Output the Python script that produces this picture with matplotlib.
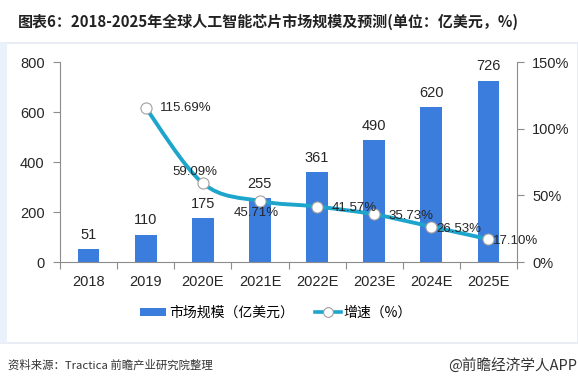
import matplotlib
matplotlib.use('Agg')
import matplotlib.pyplot as plt
from matplotlib.path import Path
from matplotlib.patches import PathPatch, Rectangle
from matplotlib.lines import Line2D
from matplotlib.ticker import FuncFormatter, FixedLocator
import numpy as np

plt.rcParams['font.family'] = ['Liberation Sans', 'Noto Sans CJK SC', 'DejaVu Sans']

# ---- data --------------------------------------------------------------
years = ['2018', '2019', '2020E', '2021E', '2022E', '2023E', '2024E', '2025E']
market = [51, 110, 175, 255, 361, 490, 620, 726]           # 亿美元
growth = [None, 115.69, 59.09, 45.71, 41.57, 35.73, 26.53, 17.10]  # %

BAR_C = '#3b7ddd'
LINE_C = '#1ea5cc'
AX_C = '#8c8c8c'
TXT_C = '#262626'
CJK = ['Noto Sans CJK SC', 'DejaVu Sans']

fig = plt.figure(figsize=(5.78, 3.85), dpi=100)

# panel background
fig.patches.append(Rectangle((0, 0), 1, 1, transform=fig.transFigure,
                             facecolor='white', edgecolor='none', zorder=-3))
fig.patches.append(Rectangle((0, 1 - 343 / 385), 1, (343 - 43) / 385,
                             transform=fig.transFigure, facecolor='white',
                             edgecolor='#e6ebf2', linewidth=1.2, zorder=-2))
fig.patches.append(Rectangle((0, 1 - 343 / 385), 7 / 578, (343 - 43) / 385,
                             transform=fig.transFigure, facecolor='#e9f1fa',
                             edgecolor='none', zorder=-1))

ax = fig.add_axes([60 / 578, 1 - 262 / 385, (517 - 60) / 578, 200 / 385])
ax.set_facecolor('none')
x = np.arange(len(years))
ax.bar(x, market, width=0.38, color=BAR_C, zorder=2)
for xi, v in zip(x, market):
    ax.text(xi, v + 28, str(v), ha='center', va='bottom', fontsize=10.5,
            color=TXT_C, zorder=5)

ax.set_xlim(-0.5, len(years) - 0.5)
ax.set_ylim(0, 800)
ax.set_yticks([0, 200, 400, 600, 800])
ax.set_xticks(x)
ax.set_xticklabels(years)
ax.xaxis.set_minor_locator(FixedLocator(np.arange(-0.5, len(years), 1.0)))
ax.tick_params(axis='x', which='major', length=0, pad=9, labelsize=10.5,
               colors=TXT_C)
ax.tick_params(axis='x', which='minor', length=5, color=AX_C, width=0.8)
ax.tick_params(axis='y', length=5, color=AX_C, width=0.8, labelsize=10.5,
               labelcolor=TXT_C, pad=6)
for s in ['top', 'right']:
    ax.spines[s].set_visible(False)
for s in ['left', 'bottom']:
    ax.spines[s].set_color(AX_C)
    ax.spines[s].set_linewidth(0.8)

# ---- growth line (right axis) -----------------------------------------
ax2 = ax.twinx()
ax2.set_ylim(0, 150)
ax2.set_yticks([0, 50, 100, 150])
ax2.yaxis.set_major_formatter(FuncFormatter(lambda v, p: f'{v:.0f}%'))
ax2.tick_params(axis='y', length=5, color=AX_C, width=0.8, labelsize=10.5,
                labelcolor=TXT_C, pad=6)
for s in ['top', 'left', 'bottom']:
    ax2.spines[s].set_visible(False)
ax2.spines['right'].set_color(AX_C)
ax2.spines['right'].set_linewidth(0.8)

gx = np.array([xi for xi, g in zip(x, growth) if g is not None], dtype=float)
gy = np.array([g for g in growth if g is not None], dtype=float)

# smooth curve through the points (Catmull-Rom as cubic Bezier segments)
verts = [(gx[0], gy[0])]
codes = [Path.MOVETO]
n = len(gx)
for i in range(n - 1):
    p0 = np.array([gx[max(i - 1, 0)], gy[max(i - 1, 0)]])
    p1 = np.array([gx[i], gy[i]])
    p2 = np.array([gx[i + 1], gy[i + 1]])
    p3 = np.array([gx[min(i + 2, n - 1)], gy[min(i + 2, n - 1)]])
    c1 = p1 + (p2 - p0) / 6
    c2 = p2 - (p3 - p1) / 6
    verts += [tuple(c1), tuple(c2), tuple(p2)]
    codes += [Path.CURVE4] * 3
ax2.add_patch(PathPatch(Path(verts, codes), facecolor='none',
                        edgecolor=LINE_C, linewidth=2.8, zorder=3,
                        capstyle='round'))
ax2.plot(gx, gy, linestyle='none', marker='o', markersize=8,
         markerfacecolor='white', markeredgecolor='#a0a0a0',
         markeredgewidth=0.8, zorder=4)

# percentage labels: (dx, dy in %-units, ha, va)
offsets = {1: (0.25, 0, 'left', 'center'),
           2: (-0.14, 4, 'center', 'bottom'),
           3: (-0.07, -4.5, 'center', 'top'),
           4: (0.25, -1, 'left', 'center'),
           5: (0.25, -1, 'left', 'center'),
           6: (0.09, -1.5, 'left', 'center'),
           7: (0.08, -1.5, 'left', 'center')}
for xi, g in zip(x, growth):
    if g is None:
        continue
    dx, dy, ha, va = offsets[xi]
    ax2.text(xi + dx, g + dy, f'{g:.2f}%', ha=ha, va=va, fontsize=9.5,
             color=TXT_C, zorder=5)

# ---- legend ------------------------------------------------------------
h_bar = Rectangle((0, 0), 1, 1, facecolor=BAR_C, edgecolor='none')
h_line = Line2D([], [], color=LINE_C, linewidth=2.6, marker='o',
                markersize=7, markerfacecolor='white',
                markeredgecolor='#a0a0a0', markeredgewidth=0.8)
fig.legend([h_bar, h_line], ['市场规模（亿美元）', '增速（%）'],
           loc='center', bbox_to_anchor=(276 / 578, 1 - 313 / 385),
           ncol=2, frameon=False, handlelength=1.9,
           handleheight=0.55, handletextpad=0.2, columnspacing=1.5,
           prop={'family': CJK, 'size': 10})

# ---- title & footer ----------------------------------------------------
fig.text(18 / 578, 1 - 22 / 385,
         '图表6：2018-2025年全球人工智能芯片市场规模及预测(单位：亿美元，%)',
         ha='left', va='center', fontsize=10.8, fontweight='bold',
         color='#222222', family=CJK)
fig.text(8 / 578, 1 - 365 / 385, '资料来源：Tractica 前瞻产业研究院整理',
         ha='left', va='center', fontsize=8.2, color='#333333', family=CJK)
fig.text(577 / 578, 1 - 365 / 385, '@前瞻经济学人APP',
         ha='right', va='center', fontsize=10.5, color='#333333', family=CJK)

fig.savefig('out.png', dpi=100)
